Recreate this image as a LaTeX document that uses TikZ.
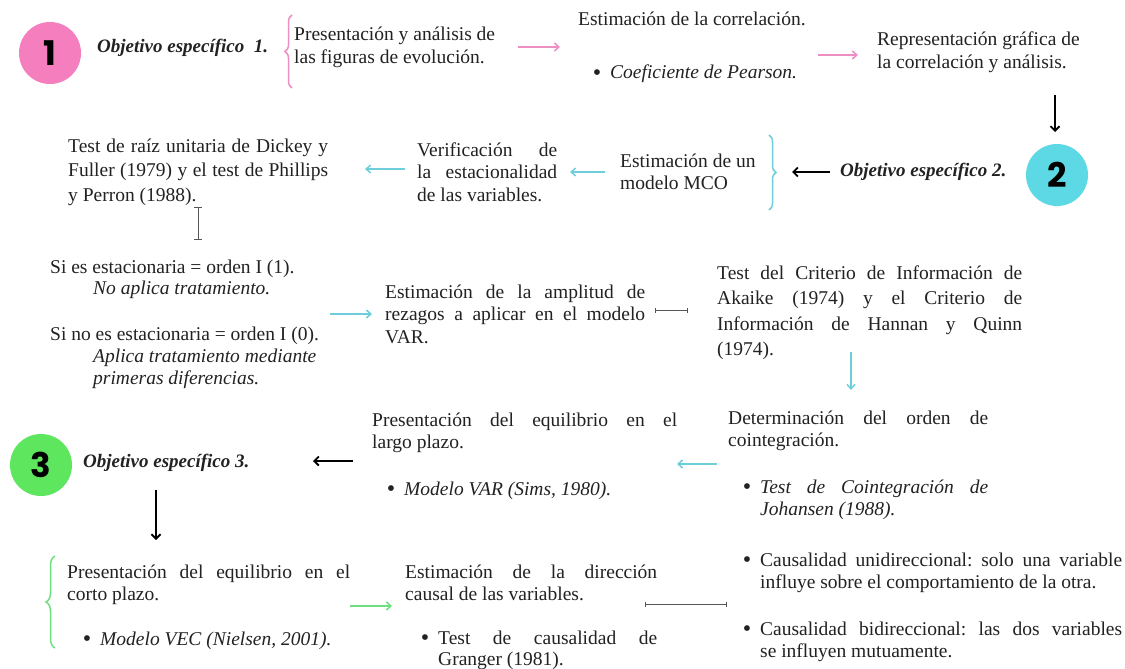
\documentclass[tikz,border=0pt]{standalone}
\usepackage{fontspec}
\setmainfont{Liberation Serif}
\newfontfamily\numfont{Poppins}
\usetikzlibrary{arrows.meta,decorations.pathreplacing}
\definecolor{pinkc}{HTML}{F57EBE}
\definecolor{cyanc}{HTML}{5CD9E4}
\definecolor{greenc}{HTML}{5EE65E}
\definecolor{pinka}{HTML}{EE8FC4}
\definecolor{cyana}{HTML}{6DCFDB}
\definecolor{greena}{HTML}{70E07E}
\definecolor{textc}{HTML}{222222}
\definecolor{grayl}{HTML}{555555}
\frenchspacing
\newcommand\jl[1]{\makebox[\linewidth][s]{#1}\par}
\newcommand\bu{\noindent\llap{\raisebox{-1.2pt}{\upshape\fontsize{24}{22}\selectfont\textbullet}\hspace{9pt}}}
\tikzset{
  txt/.style={anchor=base west, inner sep=0pt, text=textc, font=\fontsize{19.5}{22.5}\selectfont},
  obj/.style={anchor=base west, inner sep=0pt, text=textc, font=\fontsize{19}{22}\selectfont\bfseries\itshape},
  numc/.style={circle, inner sep=0pt, minimum size=62pt, text=black, font=\numfont\bfseries\fontsize{34}{34}\selectfont},
  arr/.style={line width=1.5pt, -{Straight Barb[length=4.5pt,width=8pt]}},
  barr/.style={line width=1.8pt, draw=black, -{Straight Barb[length=4.5pt,width=9pt]}},
  barline/.style={line width=1pt, draw=grayl, {Bar[width=5pt]}-{Bar[width=5pt]}},
  brc/.style={line width=1.5pt, decorate, decoration={brace, amplitude=7pt}},
}
\begin{document}
\begin{tikzpicture}[x=1pt,y=-1pt]
\fill[white] (0,0) rectangle (1125,669);
\useasboundingbox (0,0) rectangle (1125,669);

% ---- circles and objectives
\node[numc, fill=pinkc] (c1) at (50,53) {1};
\node[numc, fill=cyanc] (c2) at (1057,175) {2};
\node[numc, fill=greenc] (c3) at (41,465) {3};
\node[obj] (o1) at (97,53) {Objetivo específico\enspace 1.};
\node[obj] (o2) at (840,176) {Objetivo específico 2.};
\node[obj] (o3) at (83,467) {Objetivo específico 3.};

% ---- row 1
\node[txt] (t1) at (294,41) {\parbox[t]{220pt}{Presentación y análisis de\par las figuras de evolución.}};
\node[txt] (t2) at (578,26) {\parbox[t]{230pt}{Estimación de la correlación.}};
\node[txt] (t3) at (610,79) {\parbox[t]{200pt}{\bu\textit{Coeficiente de Pearson.}}};
\node[txt] (t4) at (877,46) {\parbox[t]{220pt}{Representación gráfica de\par la correlación y análisis.}};

% ---- row 2
\node[txt] (t5) at (620,167) {\parbox[t]{150pt}{Estimación de un\par modelo MCO}};
\node[txt] (t6) at (417,156) {\parbox[t]{140pt}{\jl{Verificación de}\jl{la estacionalidad}de las variables.}};
\node[txt] (t7) at (68,152) {\parbox[t]{260pt}{\fontsize{19.5}{24.5}\selectfont\jl{Test de raíz unitaria de Dickey y}\jl{Fuller (1979) y el test de Phillips}y Perron (1988).}};

% ---- row 3
\node[txt] (t8) at (50,273) {\parbox[t]{300pt}{Si es estacionaria = orden I (1).}};
\node[txt] (t9) at (93,294) {\parbox[t]{250pt}{\textit{No aplica tratamiento.}}};
\node[txt] (t10) at (50,340) {\parbox[t]{300pt}{Si no es estacionaria = orden I (0).}};
\node[txt] (t11) at (93,362) {\parbox[t]{250pt}{\itshape Aplica tratamiento mediante\par primeras diferencias.}};
\node[txt] (t12) at (385,298) {\parbox[t]{260pt}{\jl{Estimación de la amplitud de}\jl{rezagos a aplicar en el modelo}VAR.}};
\node[txt] (t13) at (717,279) {\parbox[t]{305pt}{\fontsize{19.5}{25.5}\selectfont\jl{Test del Criterio de Información de}\jl{Akaike (1974) y el Criterio de}\jl{Información de Hannan y Quinn}(1974).}};

% ---- row 4
\node[txt] (t14) at (728,424) {\parbox[t]{260pt}{\jl{Determinación del orden de}cointegración.}};
\node[txt] (t15) at (760,493) {\parbox[t]{228pt}{\itshape\bu\makebox[\linewidth][s]{Test de Cointegración de}\par Johansen (1988).}};
\node[txt] (t16) at (372,426) {\parbox[t]{305pt}{\jl{Presentación del equilibrio en el}largo plazo.}};
\node[txt] (t17) at (404,495) {\parbox[t]{260pt}{\bu\textit{Modelo VAR (Sims, 1980).}}};

% ---- row 5
\node[txt] (t18) at (67,578) {\parbox[t]{283pt}{\jl{Presentación del equilibrio en el}corto plazo.}};
\node[txt] (t19) at (100,645) {\parbox[t]{260pt}{\bu\textit{Modelo VEC (Nielsen, 2001).}}};
\node[txt] (t20) at (405,578) {\parbox[t]{252pt}{\jl{Estimación de la dirección}causal de las variables.}};
\node[txt] (t21) at (438,644) {\parbox[t]{219pt}{\fontsize{19.5}{21.5}\selectfont\bu\makebox[\linewidth][s]{Test de causalidad de}\par Granger (1981).}};
\node[txt] (t22) at (760,566) {\parbox[t]{362pt}{\bu\makebox[\linewidth][s]{Causalidad unidireccional: solo una variable}\par influye sobre el comportamiento de la otra.}};
\node[txt] (t23) at (760,635) {\parbox[t]{362pt}{\bu\makebox[\linewidth][s]{Causalidad bidireccional: las dos variables}\par se influyen mutuamente.}};

% ---- braces
\coordinate (b1a) at (292,88); \coordinate (b1b) at (292,15);
\draw[brc, draw=pinka] (b1a) -- (b1b);
\coordinate (b2a) at (769,135); \coordinate (b2b) at (769,210);
\draw[brc, draw=cyana] (b2a) -- (b2b);
\coordinate (b3a) at (55,648); \coordinate (b3b) at (55,556);
\draw[brc, draw=greena, decoration={brace, amplitude=9pt}] (b3a) -- (b3b);

% ---- connector end points
\coordinate (a1s) at (518,47);  \coordinate (a1e) at (560,47);
\coordinate (a2s) at (818,55);  \coordinate (a2e) at (858,55);
\coordinate (a3s) at (1055,95); \coordinate (a3e) at (1055,132);
\coordinate (a4s) at (830,172); \coordinate (a4e) at (792,172);
\coordinate (a5s) at (605,172); \coordinate (a5e) at (570,172);
\coordinate (a6s) at (405,169); \coordinate (a6e) at (365,169);
\coordinate (a7s) at (198,207); \coordinate (a7e) at (198,240);
\coordinate (a8s) at (330,314); \coordinate (a8e) at (372,314);
\coordinate (a9s) at (655,310); \coordinate (a9e) at (688,310);
\coordinate (a10s) at (851,352); \coordinate (a10e) at (851,390);
\coordinate (a11s) at (717,464); \coordinate (a11e) at (677,464);
\coordinate (a12s) at (353,461); \coordinate (a12e) at (313,461);
\coordinate (a13s) at (156,490); \coordinate (a13e) at (156,540);
\coordinate (a14s) at (350,606); \coordinate (a14e) at (392,606);
\coordinate (a15s) at (645,604); \coordinate (a15e) at (727,604);

\draw[arr, draw=pinka] (a1s) -- (a1e);
\draw[arr, draw=pinka] (a2s) -- (a2e);
\draw[barr] (a3s) -- (a3e);
\draw[barr] (a4s) -- (a4e);
\draw[arr, draw=cyana] (a5s) -- (a5e);
\draw[arr, draw=cyana] (a6s) -- (a6e);
\draw[barline, {Bar[width=8pt]}-{Bar[width=8pt]}] (a7s) -- (a7e);
\draw[arr, draw=cyana] (a8s) -- (a8e);
\draw[barline] (a9s) -- (a9e);
\draw[arr, draw=cyana] (a10s) -- (a10e);
\draw[arr, draw=cyana] (a11s) -- (a11e);
\draw[barr] (a12s) -- (a12e);
\draw[barr] (a13s) -- (a13e);
\draw[arr, draw=greena] (a14s) -- (a14e);
\draw[barline] (a15s) -- (a15e);
\end{tikzpicture}
\end{document}
